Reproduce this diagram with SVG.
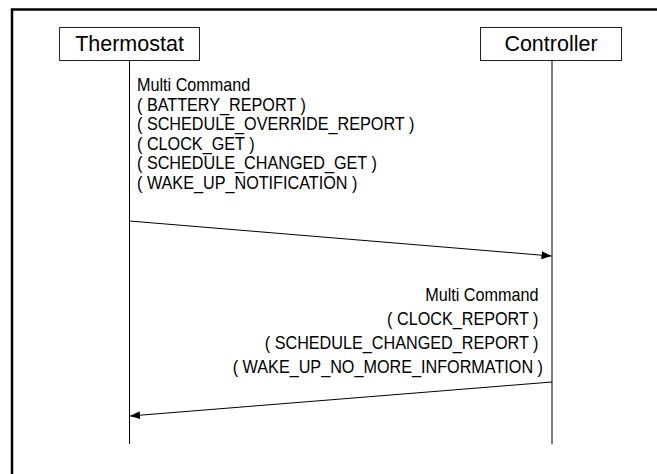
<svg xmlns="http://www.w3.org/2000/svg" width="657" height="474" viewBox="0 0 657 474">
<style>
.box{fill:#fff;stroke:#222;stroke-width:1}
.hd{font-family:"Liberation Sans",Arial,sans-serif;font-size:21.5px;fill:#000}
.lbl{font-family:"Liberation Sans",Arial,sans-serif;font-size:18px;fill:#000}
.life{stroke:#000;stroke-width:1;fill:none}
.msg{stroke:#000;stroke-width:1;fill:none;marker-end:url(#ah)}
</style>
<defs>
<marker id="ah" viewBox="0 0 10 8" refX="10" refY="4" markerWidth="10" markerHeight="8" markerUnits="userSpaceOnUse" orient="auto">
<path d="M0,0 L10,4 L0,8 Z" fill="#000"/>
</marker>
</defs>
<rect width="657" height="474" fill="#fff"/>
<path d="M12,474 V9.5 H657" fill="none" stroke="#000" stroke-width="2.5"/>
<g id="thermostat">
<rect class="box" x="59.5" y="27.5" width="140" height="33"/>
<text class="hd" x="129.5" y="51" text-anchor="middle">Thermostat</text>
<line class="life" x1="129.5" y1="60.5" x2="129.5" y2="444"/>
</g>
<g id="controller">
<rect class="box" x="480.5" y="27.5" width="141" height="33"/>
<text class="hd" x="551" y="51" text-anchor="middle">Controller</text>
<line class="life" x1="552" y1="60.5" x2="552" y2="444"/>
</g>
<g id="connectors">
<line class="msg" x1="129.5" y1="221" x2="551.5" y2="256"/>
<line class="msg" x1="552" y1="382" x2="130" y2="416"/>
</g>
<g id="labels">
<text class="lbl" transform="translate(137,0) scale(0.9,1)">
<tspan x="0" y="91">Multi Command</tspan>
<tspan x="0" y="110.6">( BATTERY_REPORT )</tspan>
<tspan x="0" y="130.2">( SCHEDULE_OVERRIDE_REPORT )</tspan>
<tspan x="0" y="149.8">( CLOCK_GET )</tspan>
<tspan x="0" y="169.4">( SCHEDULE_CHANGED_GET )</tspan>
<tspan x="0" y="189">( WAKE_UP_NOTIFICATION )</tspan>
</text>
<text class="lbl" transform="translate(543,0) scale(0.9,1)" text-anchor="end">
<tspan x="0" y="301">Multi Command</tspan>
<tspan x="0" y="325">( CLOCK_REPORT )</tspan>
<tspan x="0" y="349">( SCHEDULE_CHANGED_REPORT )</tspan>
<tspan x="0" y="373">( WAKE_UP_NO_MORE_INFORMATION )</tspan>
</text>
</g>
</svg>
